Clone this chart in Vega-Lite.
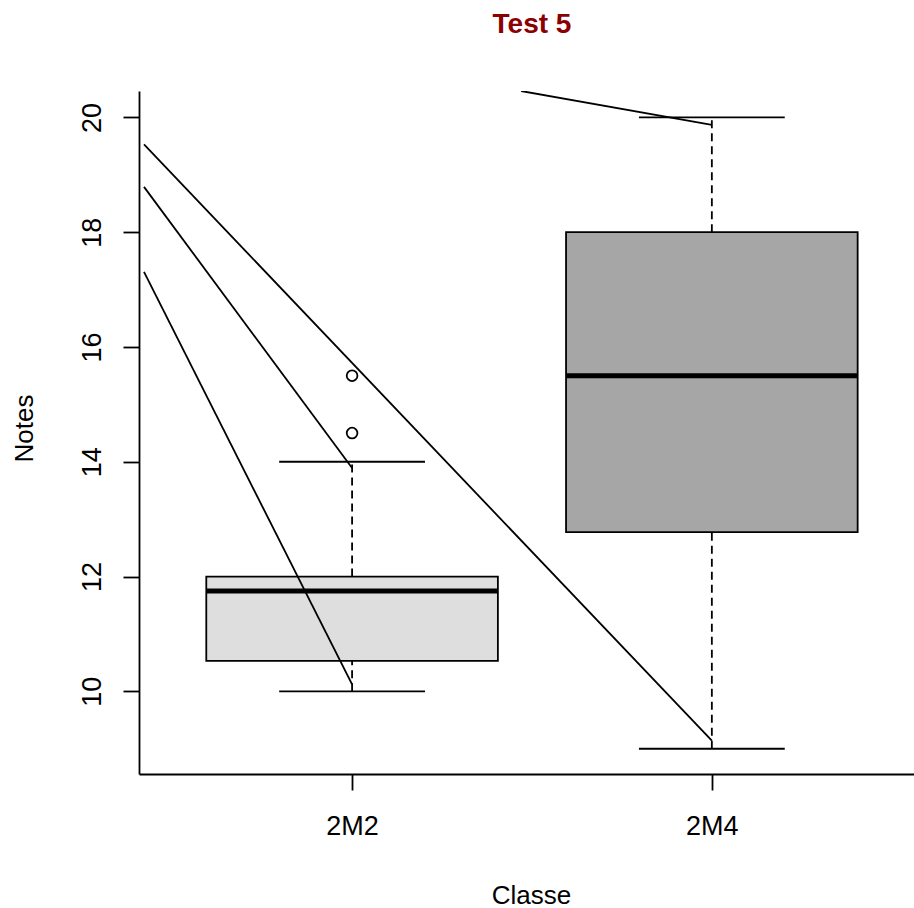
{
  "$schema": "https://vega.github.io/schema/vega-lite/v6.json",
  "width": 775,
  "height": 683,
  "autosize": {"type": "none"},
  "padding": {"left": 139, "top": 91, "right": 0, "bottom": 134},
  "background": "white",
  "config": {
    "view": {"stroke": null},
    "font": "Liberation Sans",
    "axis": {"grid": false, "domainColor": "black", "domainWidth": 1.8, "tickColor": "black", "tickWidth": 1.8, "labelColor": "black", "titleColor": "black", "labelFont": "Liberation Sans", "titleFont": "Liberation Sans", "titleFontWeight": "normal"}
  },
  "title": {"text": "Test 5", "color": "#8B0000", "fontSize": 28, "fontWeight": "bold", "font": "Liberation Sans", "anchor": "middle", "dx": 5.5, "offset": 30, "baseline": "alphabetic"},
  "datasets": {
    "boxes": [
      {"Classe": "2M2", "idx": 1, "lower": 10, "q1": 10.53, "median": 11.75, "q3": 12.0, "upper": 14},
      {"Classe": "2M4", "idx": 2, "lower": 9, "q1": 12.775, "median": 15.5, "q3": 18.0, "upper": 20}
    ],
    "outliers": [
      {"Classe": "2M2", "idx": 1, "Notes": 15.5},
      {"Classe": "2M2", "idx": 1, "Notes": 14.5}
    ],
    "segments": [
      {"seg": "A", "x": 0.4216, "y": 17.31},
      {"seg": "A", "x": 1, "y": 10.12},
      {"seg": "B", "x": 0.4216, "y": 18.79},
      {"seg": "B", "x": 1, "y": 13.89},
      {"seg": "C", "x": 0.4216, "y": 19.53},
      {"seg": "C", "x": 2, "y": 9.14},
      {"seg": "D", "x": 1.47, "y": 20.46},
      {"seg": "D", "x": 2, "y": 19.87}
    ]
  },
  "layer": [
    {
      "data": {"name": "boxes"},
      "mark": {"type": "rule", "strokeDash": [8, 5], "strokeWidth": 1.8, "color": "black"},
      "encoding": {
        "x": {"field": "idx", "type": "quantitative", "scale": {"domain": [0.4216, 2.548], "nice": false, "zero": false},
          "axis": {"values": [1, 2], "labelExpr": "datum.value == 1 ? '2M2' : '2M4'", "tickSize": 16, "labelPadding": 23, "labelFontSize": 27, "title": "Classe", "titleFontSize": 26, "titleX": 392, "titleY": 129, "titleBaseline": "alphabetic", "titleAnchor": null, "titleAlign": "center"}},
        "y": {"field": "q3", "type": "quantitative", "scale": {"domain": [8.56, 20.46], "nice": false, "zero": false},
          "axis": {"values": [10, 12, 14, 16, 18, 20], "format": "d", "tickSize": 16, "labelAngle": 270, "labelAlign": "center", "labelBaseline": "alphabetic", "labelPadding": 23, "labelFontSize": 27, "title": "Notes", "titleFontSize": 26, "titleAngle": 270, "titleX": -107, "titleY": 337, "titleBaseline": "alphabetic", "titleAlign": "center", "titleAnchor": null}},
        "y2": {"field": "upper"}
      }
    },
    {
      "data": {"name": "boxes"},
      "mark": {"type": "rule", "strokeDash": [8, 5], "strokeWidth": 1.8, "color": "black"},
      "encoding": {
        "x": {"field": "idx", "type": "quantitative"},
        "y": {"field": "lower", "type": "quantitative"},
        "y2": {"field": "q1"}
      }
    },
    {
      "data": {"name": "boxes"},
      "mark": {"type": "tick", "orient": "horizontal", "size": 145.8, "thickness": 1.8, "color": "black", "opacity": 1},
      "encoding": {
        "x": {"field": "idx", "type": "quantitative"},
        "y": {"field": "upper", "type": "quantitative"}
      }
    },
    {
      "data": {"name": "boxes"},
      "mark": {"type": "tick", "orient": "horizontal", "size": 145.8, "thickness": 1.8, "color": "black", "opacity": 1},
      "encoding": {
        "x": {"field": "idx", "type": "quantitative"},
        "y": {"field": "lower", "type": "quantitative"}
      }
    },
    {
      "data": {"name": "boxes"},
      "mark": {"type": "bar", "orient": "vertical", "size": 291.6, "stroke": "black", "strokeWidth": 1.8, "opacity": 1},
      "encoding": {
        "x": {"field": "idx", "type": "quantitative"},
        "y": {"field": "q3", "type": "quantitative"},
        "y2": {"field": "q1"},
        "color": {"field": "Classe", "type": "nominal", "scale": {"domain": ["2M2", "2M4"], "range": ["#DEDEDE", "#A6A6A6"]}, "legend": null}
      }
    },
    {
      "data": {"name": "boxes"},
      "mark": {"type": "tick", "orient": "horizontal", "size": 291.6, "thickness": 5, "color": "black", "opacity": 1},
      "encoding": {
        "x": {"field": "idx", "type": "quantitative"},
        "y": {"field": "median", "type": "quantitative"}
      }
    },
    {
      "data": {"name": "outliers"},
      "mark": {"type": "point", "shape": "circle", "filled": false, "size": 115, "stroke": "black", "strokeWidth": 1.8, "opacity": 1},
      "encoding": {
        "x": {"field": "idx", "type": "quantitative"},
        "y": {"field": "Notes", "type": "quantitative"}
      }
    },
    {
      "data": {"name": "segments"},
      "mark": {"type": "line", "color": "black", "strokeWidth": 1.8, "clip": true},
      "encoding": {
        "x": {"field": "x", "type": "quantitative"},
        "y": {"field": "y", "type": "quantitative"},
        "detail": {"field": "seg", "type": "nominal"}
      }
    },
    {
      "mark": {"type": "rule", "color": "black", "strokeWidth": 1.8},
      "encoding": {"y": {"datum": 20.46, "type": "quantitative"}}
    }
  ]
}
